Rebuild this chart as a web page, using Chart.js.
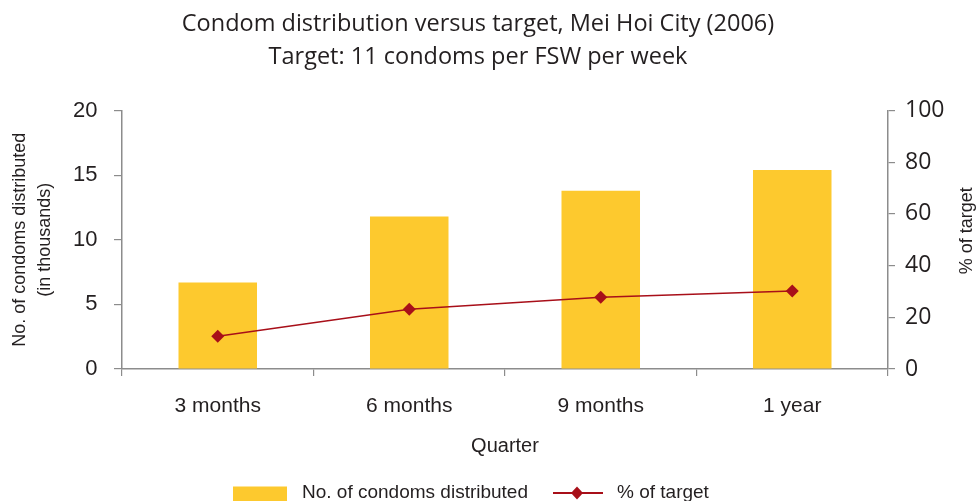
<!DOCTYPE html>
<html>
<head>
<meta charset="utf-8">
<script src="https://cdn.jsdelivr.net/npm/chart.js@4/dist/chart.umd.min.js"></script>
<style>
  html, body { margin: 0; padding: 0; background: #ffffff; }
  #wrap { width: 977px; height: 501px; position: relative; }
</style>
</head>
<body>
<div id="wrap"><canvas id="c" width="977" height="501"></canvas></div>
<script>
const titleLines = ['Condom distribution versus target, Mei Hoi City (2006)', 'Target: 11 condoms per FSW per week'];
const categories = ['3 months', '6 months', '9 months', '1 year'];
const condomsThousands = [6.7, 11.8, 13.8, 15.4];
const percentOfTarget = [12.7, 23.1, 27.8, 30.2];
const leftTicks = [0, 5, 10, 15, 20];
const rightTicks = [0, 20, 40, 60, 80, 100];
const seriesNames = ['No. of condoms distributed', '% of target'];
const leftAxisTitle = ['No. of condoms distributed', '(in thousands)'];
const rightAxisTitle = '% of target';
const xAxisTitle = 'Quarter';

const BAR = '#FDC92E';
const LINE = '#A80F19';
const AXIS = '#8C8C8C';
const TEXT = '#231F20';

const extras = {
  id: 'extras',
  afterDraw(chart) {
    const ctx = chart.ctx;
    const y1 = chart.scales.y1;

    // chart title (two lines)
    ctx.save();
    ctx.fillStyle = TEXT;
    ctx.font = '23.5px "Open Sans", sans-serif';
    ctx.textAlign = 'center';
    ctx.textBaseline = 'middle';
    ctx.fillText(titleLines[0], 478, 24);
    ctx.fillText(titleLines[1], 478, 57.5);
    ctx.restore();

    // right axis title, reading upward
    ctx.save();
    ctx.fillStyle = TEXT;
    ctx.font = '18px "Liberation Sans", Arial, sans-serif';
    ctx.textAlign = 'center';
    ctx.textBaseline = 'middle';
    ctx.translate(967, (y1.top + y1.bottom) / 2 - 9);
    ctx.rotate(-Math.PI / 2);
    ctx.fillText(rightAxisTitle, 0, 0);
    ctx.restore();

    // legend
    ctx.save();
    const ly = 493;
    ctx.fillStyle = BAR;
    ctx.fillRect(233, 486.5, 54, 20);
    ctx.fillStyle = TEXT;
    ctx.font = '19px "Liberation Sans", Arial, sans-serif';
    ctx.textAlign = 'left';
    ctx.textBaseline = 'middle';
    ctx.fillText(seriesNames[0], 302, ly);
    ctx.strokeStyle = LINE;
    ctx.lineWidth = 2;
    ctx.beginPath();
    ctx.moveTo(553, ly);
    ctx.lineTo(603, ly);
    ctx.stroke();
    ctx.fillStyle = LINE;
    ctx.beginPath();
    ctx.moveTo(577, ly - 6.5);
    ctx.lineTo(583, ly);
    ctx.lineTo(577, ly + 6.5);
    ctx.lineTo(571, ly);
    ctx.closePath();
    ctx.fill();
    ctx.fillStyle = TEXT;
    ctx.fillText(seriesNames[1], 617, ly);
    ctx.restore();
  }
};

new Chart(document.getElementById('c'), {
  type: 'bar',
  data: {
    labels: categories,
    datasets: [
      {
        type: 'line',
        label: seriesNames[1],
        data: percentOfTarget,
        yAxisID: 'y1',
        borderColor: LINE,
        backgroundColor: LINE,
        borderWidth: 1.5,
        pointStyle: 'rectRot',
        pointRadius: 6.5,
        pointBorderWidth: 0,
        pointBackgroundColor: LINE,
        tension: 0,
        order: 1
      },
      {
        type: 'bar',
        label: seriesNames[0],
        data: condomsThousands,
        yAxisID: 'y',
        backgroundColor: BAR,
        borderWidth: 0,
        categoryPercentage: 1,
        barPercentage: 0.41,
        order: 2
      }
    ]
  },
  options: {
    responsive: false,
    animation: false,
    devicePixelRatio: 1,
    layout: { padding: { left: 0, right: 0, top: 110.5, bottom: 0 } },
    plugins: {
      legend: { display: false },
      tooltip: { enabled: false },
      title: { display: false }
    },
    scales: {
      x: {
        position: 'bottom',
        offset: true,
        grid: { display: true, drawOnChartArea: false, drawTicks: true, tickLength: 7, color: AXIS, lineWidth: 1.2, offset: true },
        border: { display: true, color: AXIS, width: 1.5 },
        ticks: { color: TEXT, font: { family: '"Liberation Sans", Arial, sans-serif', size: 21 }, padding: 18 },
        title: { display: true, text: xAxisTitle, color: TEXT, font: { family: '"Liberation Sans", Arial, sans-serif', size: 20, lineHeight: 1.2 }, padding: { top: 0, bottom: 43 } },
        afterFit(scale) { scale.height = 132; }
      },
      y: {
        position: 'left',
        min: 0, max: 20,
        afterBuildTicks(scale) { scale.ticks = leftTicks.map(v => ({ value: v })); },
        grid: { display: true, drawOnChartArea: false, drawTicks: true, tickLength: 8, color: AXIS, lineWidth: 1.2 },
        border: { display: true, color: AXIS, width: 1.5 },
        ticks: { color: TEXT, font: { family: '"Liberation Sans", Arial, sans-serif', size: 22 }, padding: 16.5 },
        title: { display: true, text: leftAxisTitle, color: TEXT, font: { family: '"Liberation Sans", Arial, sans-serif', size: 18, lineHeight: 1.36 }, padding: { top: 8, bottom: 0 } },
        afterFit(scale) { scale.width = 122; }
      },
      y1: {
        position: 'right',
        min: 0, max: 100,
        afterBuildTicks(scale) { scale.ticks = rightTicks.map(v => ({ value: v })); },
        grid: { display: true, drawOnChartArea: false, drawTicks: true, tickLength: 7, color: AXIS, lineWidth: 1.2 },
        border: { display: true, color: AXIS, width: 1.5 },
        ticks: { color: TEXT, font: { family: '"Open Sans", sans-serif', size: 23 }, padding: 10 },
        afterFit(scale) { scale.width = 89; }
      }
    }
  },
  plugins: [extras]
});
</script>
</body>
</html>
